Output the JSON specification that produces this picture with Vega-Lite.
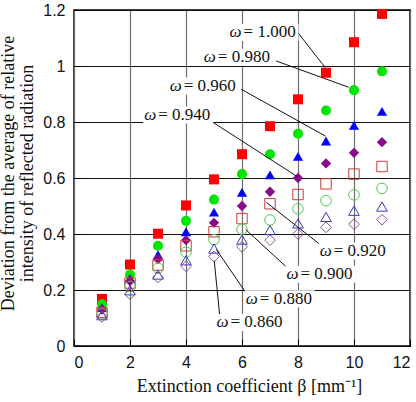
{
  "$schema": "https://vega.github.io/schema/vega-lite/v6.json",
  "width": 336,
  "height": 336,
  "autosize": {"type": "none"},
  "padding": {"left": 74, "top": 10, "right": 6, "bottom": 56},
  "background": "white",
  "config": {
    "view": {"stroke": "black", "strokeWidth": 1.5},
    "axis": {
      "domain": false,
      "tickColor": "black",
      "tickWidth": 1,
      "tickSize": -7,
      "labelFont": "Liberation Sans",
      "labelFontSize": 16,
      "labelColor": "#111",
      "titleFont": "Liberation Serif",
      "titleFontSize": 18,
      "titleFontWeight": "normal",
      "titleColor": "#111"
    }
  },
  "datasets": {
    "series": [
      {"beta": 1, "dev": 0.168, "omega": "1.000"}, {"beta": 2, "dev": 0.291, "omega": "1.000"}, {"beta": 3, "dev": 0.401, "omega": "1.000"}, {"beta": 4, "dev": 0.502, "omega": "1.000"}, {"beta": 5, "dev": 0.595, "omega": "1.000"}, {"beta": 6, "dev": 0.685, "omega": "1.000"}, {"beta": 7, "dev": 0.785, "omega": "1.000"}, {"beta": 8, "dev": 0.881, "omega": "1.000"}, {"beta": 9, "dev": 0.976, "omega": "1.000"}, {"beta": 10, "dev": 1.085, "omega": "1.000"}, {"beta": 11, "dev": 1.186, "omega": "1.000"},
      {"beta": 1, "dev": 0.149, "omega": "0.980"}, {"beta": 2, "dev": 0.255, "omega": "0.980"}, {"beta": 3, "dev": 0.358, "omega": "0.980"}, {"beta": 4, "dev": 0.447, "omega": "0.980"}, {"beta": 5, "dev": 0.523, "omega": "0.980"}, {"beta": 6, "dev": 0.614, "omega": "0.980"}, {"beta": 7, "dev": 0.685, "omega": "0.980"}, {"beta": 8, "dev": 0.758, "omega": "0.980"}, {"beta": 9, "dev": 0.841, "omega": "0.980"}, {"beta": 10, "dev": 0.914, "omega": "0.980"}, {"beta": 11, "dev": 0.981, "omega": "0.980"},
      {"beta": 1, "dev": 0.137, "omega": "0.960"}, {"beta": 2, "dev": 0.241, "omega": "0.960"}, {"beta": 3, "dev": 0.326, "omega": "0.960"}, {"beta": 4, "dev": 0.408, "omega": "0.960"}, {"beta": 5, "dev": 0.478, "omega": "0.960"}, {"beta": 6, "dev": 0.549, "omega": "0.960"}, {"beta": 7, "dev": 0.611, "omega": "0.960"}, {"beta": 8, "dev": 0.677, "omega": "0.960"}, {"beta": 9, "dev": 0.732, "omega": "0.960"}, {"beta": 10, "dev": 0.788, "omega": "0.960"}, {"beta": 11, "dev": 0.838, "omega": "0.960"},
      {"beta": 1, "dev": 0.130, "omega": "0.940"}, {"beta": 2, "dev": 0.232, "omega": "0.940"}, {"beta": 3, "dev": 0.310, "omega": "0.940"}, {"beta": 4, "dev": 0.378, "omega": "0.940"}, {"beta": 5, "dev": 0.440, "omega": "0.940"}, {"beta": 6, "dev": 0.500, "omega": "0.940"}, {"beta": 7, "dev": 0.551, "omega": "0.940"}, {"beta": 8, "dev": 0.600, "omega": "0.940"}, {"beta": 9, "dev": 0.652, "omega": "0.940"}, {"beta": 10, "dev": 0.690, "omega": "0.940"}, {"beta": 11, "dev": 0.728, "omega": "0.940"},
      {"beta": 1, "dev": 0.120, "omega": "0.920"}, {"beta": 2, "dev": 0.225, "omega": "0.920"}, {"beta": 3, "dev": 0.289, "omega": "0.920"}, {"beta": 4, "dev": 0.358, "omega": "0.920"}, {"beta": 5, "dev": 0.408, "omega": "0.920"}, {"beta": 6, "dev": 0.455, "omega": "0.920"}, {"beta": 7, "dev": 0.508, "omega": "0.920"}, {"beta": 8, "dev": 0.541, "omega": "0.920"}, {"beta": 9, "dev": 0.579, "omega": "0.920"}, {"beta": 10, "dev": 0.614, "omega": "0.920"}, {"beta": 11, "dev": 0.641, "omega": "0.920"},
      {"beta": 1, "dev": 0.115, "omega": "0.900"}, {"beta": 2, "dev": 0.213, "omega": "0.900"}, {"beta": 3, "dev": 0.278, "omega": "0.900"}, {"beta": 4, "dev": 0.335, "omega": "0.900"}, {"beta": 5, "dev": 0.380, "omega": "0.900"}, {"beta": 6, "dev": 0.417, "omega": "0.900"}, {"beta": 7, "dev": 0.450, "omega": "0.900"}, {"beta": 8, "dev": 0.490, "omega": "0.900"}, {"beta": 9, "dev": 0.519, "omega": "0.900"}, {"beta": 10, "dev": 0.540, "omega": "0.900"}, {"beta": 11, "dev": 0.563, "omega": "0.900"},
      {"beta": 1, "dev": 0.110, "omega": "0.880"}, {"beta": 2, "dev": 0.199, "omega": "0.880"}, {"beta": 3, "dev": 0.255, "omega": "0.880"}, {"beta": 4, "dev": 0.306, "omega": "0.880"}, {"beta": 5, "dev": 0.348, "omega": "0.880"}, {"beta": 6, "dev": 0.380, "omega": "0.880"}, {"beta": 7, "dev": 0.414, "omega": "0.880"}, {"beta": 8, "dev": 0.438, "omega": "0.880"}, {"beta": 9, "dev": 0.461, "omega": "0.880"}, {"beta": 10, "dev": 0.483, "omega": "0.880"}, {"beta": 11, "dev": 0.498, "omega": "0.880"},
      {"beta": 1, "dev": 0.104, "omega": "0.860"}, {"beta": 2, "dev": 0.185, "omega": "0.860"}, {"beta": 3, "dev": 0.245, "omega": "0.860"}, {"beta": 4, "dev": 0.285, "omega": "0.860"}, {"beta": 5, "dev": 0.320, "omega": "0.860"}, {"beta": 6, "dev": 0.354, "omega": "0.860"}, {"beta": 7, "dev": 0.378, "omega": "0.860"}, {"beta": 8, "dev": 0.400, "omega": "0.860"}, {"beta": 9, "dev": 0.424, "omega": "0.860"}, {"beta": 10, "dev": 0.435, "omega": "0.860"}, {"beta": 11, "dev": 0.451, "omega": "0.860"}
    ],
    "callouts": [
      {"omega": "1.000", "lx": 6.77, "ly": 1.120, "x1": 7.99, "y1": 1.120, "x2": 8.975, "y2": 0.994},
      {"omega": "0.980", "lx": 5.85, "ly": 1.031, "x1": 7.22, "y1": 1.018, "x2": 9.81, "y2": 0.924},
      {"omega": "0.960", "lx": 4.63, "ly": 0.929, "x1": 5.97, "y1": 0.917, "x2": 8.975, "y2": 0.750},
      {"omega": "0.940", "lx": 3.72, "ly": 0.825, "x1": 4.93, "y1": 0.801, "x2": 7.99, "y2": 0.604},
      {"omega": "0.920", "lx": 9.99, "ly": 0.339, "x1": 8.77, "y1": 0.364, "x2": 6.87, "y2": 0.513},
      {"omega": "0.900", "lx": 8.80, "ly": 0.256, "x1": 7.61, "y1": 0.280, "x2": 6.13, "y2": 0.416},
      {"omega": "0.880", "lx": 7.35, "ly": 0.169, "x1": 6.12, "y1": 0.193, "x2": 5.08, "y2": 0.345},
      {"omega": "0.860", "lx": 6.30, "ly": 0.084, "x1": 5.20, "y1": 0.113, "x2": 5.01, "y2": 0.304}
    ]
  },
  "layer": [
    {
      "data": {"name": "series"},
      "transform": [{"filter": "toNumber(datum.omega) >= 0.94"}],
      "mark": {"type": "point", "filled": true, "opacity": 1},
      "encoding": {
        "x": {
          "field": "beta", "type": "quantitative",
          "scale": {"domain": [0, 12], "nice": false, "zero": false},
          "axis": {
            "values": [0, 1, 2, 3, 4, 5, 6, 7, 8, 9, 10, 11, 12],
            "labelExpr": "datum.value % 2 == 0 ? toString(datum.value) : ''",
            "labelPadding": 15,
            "grid": true,
            "gridColor": {"condition": {"test": "datum.value % 2 == 1", "value": "transparent"}, "value": "#6e6e6e"},
            "gridWidth": 1.2,
            "title": "Extinction coefficient β [mm⁻¹]",
            "titleX": 175,
            "titleY": 45,
            "titleAlign": "center",
            "titleBaseline": "alphabetic"
          }
        },
        "y": {
          "field": "dev", "type": "quantitative",
          "scale": {"domain": [0, 1.2], "nice": false, "zero": false},
          "axis": {
            "values": [0, 0.1, 0.2, 0.3, 0.4, 0.5, 0.6, 0.7, 0.8, 0.9, 1, 1.1, 1.2],
            "labelExpr": "round(datum.value * 10) % 2 == 0 ? toString(round(datum.value * 10) / 10) : ''",
            "labelPadding": 16,
            "grid": true,
            "gridColor": {"condition": {"test": "round(datum.value * 10) % 2 == 1", "value": "transparent"}, "value": "#111"},
            "gridWidth": 1.2,
            "title": ["Deviation from the average of relative", "intensity of reflected radiation"],
            "titleLineHeight": 19,
            "titleX": -61,
            "titleY": 163,
            "titleAlign": "center",
            "titleBaseline": "alphabetic",
            "titleAngle": -90
          }
        },
        "shape": {
          "field": "omega", "type": "nominal", "legend": null,
          "scale": {"domain": ["1.000", "0.980", "0.960", "0.940", "0.920", "0.900", "0.880", "0.860"],
                    "range": ["square", "circle", "triangle-up", "diamond", "square", "circle", "triangle-up", "diamond"]}
        },
        "color": {
          "field": "omega", "type": "nominal", "legend": null,
          "scale": {"domain": ["1.000", "0.980", "0.960", "0.940", "0.920", "0.900", "0.880", "0.860"],
                    "range": ["#ff0000", "#00e600", "#0000ff", "#8b0a8b", "#cc3b3b", "#4cc94c", "#3a3ac4", "#8f4f93"]}
        },
        "size": {
          "field": "omega", "type": "nominal", "legend": null,
          "scale": {"domain": ["1.000", "0.980", "0.960", "0.940", "0.920", "0.900", "0.880", "0.860"],
                    "range": [100, 115, 110, 95, 100, 105, 100, 85]}
        }
      }
    },
    {
      "data": {"name": "series"},
      "transform": [{"filter": "toNumber(datum.omega) < 0.94"}],
      "mark": {"type": "point", "filled": false, "strokeWidth": 1, "opacity": 1},
      "encoding": {
        "x": {"field": "beta", "type": "quantitative"},
        "y": {"field": "dev", "type": "quantitative"},
        "shape": {"field": "omega", "type": "nominal", "legend": null},
        "color": {"field": "omega", "type": "nominal", "legend": null},
        "size": {"field": "omega", "type": "nominal", "legend": null}
      }
    },
    {
      "data": {"name": "callouts"},
      "mark": {"type": "rule", "color": "#111", "strokeWidth": 1},
      "encoding": {
        "x": {"field": "x1", "type": "quantitative"},
        "y": {"field": "y1", "type": "quantitative"},
        "x2": {"field": "x2"},
        "y2": {"field": "y2"}
      }
    },
    {
      "data": {"name": "callouts"},
      "mark": {"type": "rect", "color": "white", "width": 70, "height": 17},
      "encoding": {
        "x": {"field": "lx", "type": "quantitative"},
        "y": {"field": "ly", "type": "quantitative"}
      }
    },
    {
      "data": {"name": "callouts"},
      "mark": {"type": "text", "text": "ω", "font": "Liberation Serif", "fontStyle": "italic", "fontSize": 17, "align": "left", "baseline": "middle", "dx": -34, "color": "#111"},
      "encoding": {
        "x": {"field": "lx", "type": "quantitative"},
        "y": {"field": "ly", "type": "quantitative"}
      }
    },
    {
      "data": {"name": "callouts"},
      "transform": [{"calculate": "'= ' + datum.omega", "as": "label"}],
      "mark": {"type": "text", "font": "Liberation Serif", "fontSize": 17, "align": "left", "baseline": "middle", "dx": -20, "color": "#111"},
      "encoding": {
        "x": {"field": "lx", "type": "quantitative"},
        "y": {"field": "ly", "type": "quantitative"},
        "text": {"field": "label"}
      }
    }
  ]
}
